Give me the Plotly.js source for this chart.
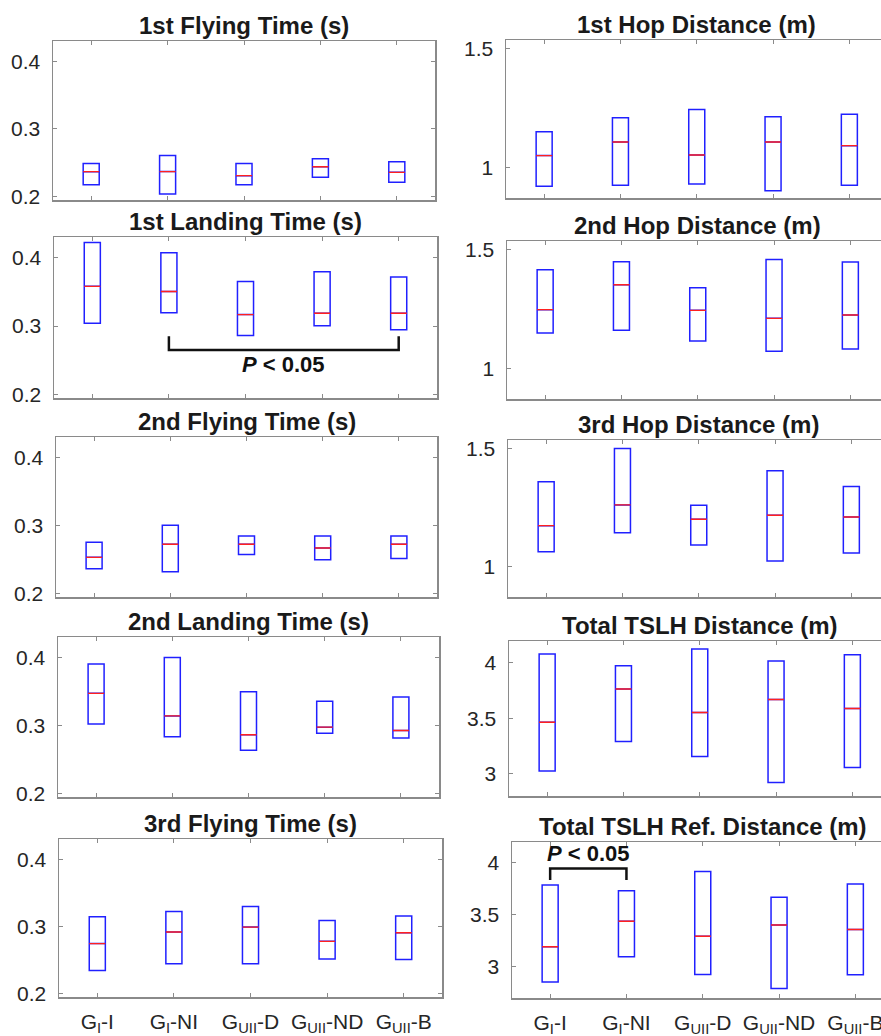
<!DOCTYPE html>
<html>
<head>
<meta charset="utf-8">
<script src="https://cdn.plot.ly/plotly-3.0.1.min.js"></script>
<style>html,body{margin:0;padding:0;background:#fff;}#chart{width:881px;height:1036px;}</style>
</head>
<body>
<div id="chart"></div>
<script>
// ---- data ----
const groupPositions = [1, 2, 3, 4, 5];
const groupLabels = ['G<sub>I</sub>-I', 'G<sub>I</sub>-NI', 'G<sub>UII</sub>-D', 'G<sub>UII</sub>-ND', 'G<sub>UII</sub>-B'];

const panelTitles = [
  '1st Flying Time (s)', '1st Landing Time (s)', '2nd Flying Time (s)', '2nd Landing Time (s)', '3rd Flying Time (s)',
  '1st Hop Distance (m)', '2nd Hop Distance (m)', '3rd Hop Distance (m)', 'Total TSLH Distance (m)', 'Total TSLH Ref. Distance (m)'
];

// 1st Flying Time
const fly1Q1  = [0.2175, 0.2039, 0.2175, 0.2286, 0.2214];
const fly1Med = [0.2369, 0.2370, 0.2310, 0.2442, 0.2359];
const fly1Q3  = [0.2490, 0.2607, 0.2490, 0.2558, 0.2515];
// 1st Landing Time
const land1Q1  = [0.3040, 0.3196, 0.2863, 0.3005, 0.2946];
const land1Med = [0.3580, 0.3505, 0.3167, 0.3186, 0.3186];
const land1Q3  = [0.4220, 0.4070, 0.3650, 0.3794, 0.3716];
// 2nd Flying Time
const fly2Q1  = [0.2365, 0.2320, 0.2576, 0.2498, 0.2517];
const fly2Med = [0.2532, 0.2724, 0.2724, 0.2670, 0.2724];
const fly2Q3  = [0.2754, 0.3005, 0.2847, 0.2847, 0.2847];
// 2nd Landing Time
const land2Q1  = [0.3024, 0.2835, 0.2635, 0.2888, 0.2815];
const land2Med = [0.3472, 0.3141, 0.2864, 0.2976, 0.2927];
const land2Q3  = [0.3905, 0.4000, 0.3496, 0.3355, 0.3418];
// 3rd Flying Time
const fly3Q1  = [0.2345, 0.2443, 0.2443, 0.2517, 0.2507];
const fly3Med = [0.2744, 0.2916, 0.2990, 0.2778, 0.2906];
const fly3Q3  = [0.3143, 0.3222, 0.3296, 0.3089, 0.3153];
// 1st Hop Distance
const hop1Q1  = [0.9216, 0.9258, 0.9314, 0.9020, 0.9258];
const hop1Med = [1.0504, 1.1078, 1.0532, 1.1078, 1.0924];
const hop1Q3  = [1.1510, 1.2100, 1.2450, 1.2143, 1.2240];
// 2nd Hop Distance
const hop2Q1  = [1.1500, 1.1610, 1.1162, 1.0728, 1.0826];
const hop2Med = [1.2480, 1.3529, 1.2451, 1.2115, 1.2255];
const hop2Q3  = [1.4160, 1.4496, 1.3403, 1.4594, 1.4482];
// 3rd Hop Distance
const hop3Q1  = [1.0637, 1.1445, 1.0921, 1.0241, 1.0581];
const hop3Med = [1.1742, 1.2620, 1.2011, 1.2181, 1.2110];
const hop3Q3  = [1.3598, 1.5014, 1.2606, 1.4065, 1.3400];
// Total TSLH Distance
const totQ1  = [3.024, 3.290, 3.156, 2.922, 3.057];
const totMed = [3.464, 3.763, 3.551, 3.668, 3.587];
const totQ3  = [4.078, 3.973, 4.123, 4.015, 4.072];
// Total TSLH Ref. Distance
const refQ1  = [2.850, 3.093, 2.923, 2.789, 2.920];
const refMed = [3.190, 3.435, 3.291, 3.399, 3.355];
const refQ3  = [3.783, 3.728, 3.914, 3.665, 3.792];

const yRanges = [
  [0.195, 0.430], [0.195, 0.430], [0.195, 0.430], [0.195, 0.430], [0.195, 0.430],
  [0.872, 1.537], [0.872, 1.537], [0.872, 1.537], [2.800, 4.195], [2.697, 4.197]
];
const yTicks = [
  [0.2, 0.3, 0.4], [0.2, 0.3, 0.4], [0.2, 0.3, 0.4], [0.2, 0.3, 0.4], [0.2, 0.3, 0.4],
  [1, 1.5], [1, 1.5], [1, 1.5], [3, 3.5, 4], [3, 3.5, 4]
];

// significance brackets: panel index, from group, to group, bracket foot, bracket bar, label y
const sigPanels = [1, 9];
const sigFrom   = [2, 1];
const sigTo     = [5, 2];
const sigFoot   = [0.285, 3.831];
const sigBar    = [0.265, 3.943];
const sigLabelY = [0.244, 4.086];
const sigText   = '<b><i>P</i> &lt; 0.05</b>';

const panelData = [
  [fly1Q1, fly1Med, fly1Q3], [land1Q1, land1Med, land1Q3], [fly2Q1, fly2Med, fly2Q3],
  [land2Q1, land2Med, land2Q3], [fly3Q1, fly3Med, fly3Q3],
  [hop1Q1, hop1Med, hop1Q3], [hop2Q1, hop2Med, hop2Q3], [hop3Q1, hop3Med, hop3Q3],
  [totQ1, totMed, totQ3], [refQ1, refMed, refQ3]
];

// ---- layout geometry (pixels) ----
const W = 881, H = 1036, STEP = 76.3;
// [left, right, top, bottom]
const leftBoxes = [[53, 435, 41, 200], [54, 437, 237, 398], [56, 437, 437, 597], [58, 439, 637, 797], [59, 442, 839, 997]];
// [left, top, bottom] (right side is cut by the page edge)
const rightBoxes = [[506, 40, 198], [507, 241, 399], [508, 440, 597], [509, 641, 796], [512, 842, 998]];

const FONT = 'Liberation Sans, Arial, sans-serif';
const TXT = '#262626';
const AXC = '#8a8a8a';

const traces = [];
const layout = {
  width: W, height: H,
  margin: {l: 0, r: 0, t: 0, b: 0},
  paper_bgcolor: '#fff', plot_bgcolor: '#fff',
  showlegend: false,
  boxmode: 'overlay',
  font: {family: FONT, color: TXT, size: 21},
  annotations: [], shapes: []
};

for (let i = 0; i < 10; i++) {
  const n = i + 1;
  const xa = 'x' + (n === 1 ? '' : n), ya = 'y' + (n === 1 ? '' : n);
  const xk = 'xaxis' + (n === 1 ? '' : n), yk = 'yaxis' + (n === 1 ? '' : n);
  let xDom, yDom, xRange, titleX, isRight = i >= 5;
  const row = i % 5;
  let top, bottom;
  if (!isRight) {
    const b = leftBoxes[row];
    xDom = [b[0] / W, b[1] / W];
    xRange = [0.5, 5.5];
    top = b[2]; bottom = b[3];
    titleX = (b[0] + b[1]) / 2 / W;
  } else {
    const b = rightBoxes[row];
    xDom = [b[0] / W, 1];
    xRange = [0.5, 0.5 + (W - b[0]) / STEP];
    top = b[1]; bottom = b[2];
    titleX = (b[0] + b[0] + 5 * STEP) / 2 / W;
  }
  yDom = [1 - bottom / H, 1 - top / H];
  const showX = row === 4;
  layout[xk] = {
    domain: xDom, range: xRange, anchor: ya,
    tickmode: 'array', tickvals: groupPositions, ticktext: groupLabels,
    showticklabels: showX, ticks: 'inside', ticklen: 4, tickcolor: AXC, tickwidth: 1,
    showline: true, linecolor: AXC, linewidth: 1.5, mirror: 'ticks',
    showgrid: false, zeroline: false, fixedrange: true, ticklabeloverflow: 'allow',
    tickfont: {family: FONT, size: 21, color: TXT}, ticklabelstandoff: 5
  };
  layout[yk] = {
    domain: yDom, range: yRanges[i], anchor: xa,
    tickmode: 'array', tickvals: yTicks[i], ticktext: yTicks[i].map(String),
    ticks: 'inside', ticklen: 4, tickcolor: AXC, tickwidth: 1,
    showline: true, linecolor: AXC, linewidth: 1.5, mirror: isRight ? false : 'ticks',
    showgrid: false, zeroline: false, fixedrange: true,
    tickfont: {family: FONT, size: 21, color: TXT}, ticklabelstandoff: 7
  };
  const [q1, med, q3] = panelData[i];
  traces.push({
    type: 'box', x: groupPositions, q1: q1, median: med, q3: q3,
    lowerfence: q1, upperfence: q3, width: 0.21,
    xaxis: xa, yaxis: ya, boxpoints: false, hoverinfo: 'skip',
    fillcolor: 'rgba(0,0,0,0)', line: {color: '#2020ff', width: 1.5}
  });
  traces.push({
    type: 'box', x: groupPositions, q1: med, median: med, q3: med,
    lowerfence: med, upperfence: med, width: 0.21,
    xaxis: xa, yaxis: ya, boxpoints: false, hoverinfo: 'skip',
    fillcolor: 'rgba(0,0,0,0)', line: {color: '#ff2020', width: 1.4}
  });
  layout.annotations.push({
    text: '<b>' + panelTitles[i] + '</b>', xref: 'paper', yref: 'paper',
    x: titleX, y: 1 - top / H, xanchor: 'center', yanchor: 'bottom', yshift: 0,
    showarrow: false, font: {family: FONT, size: 24, color: '#1a1a1a'}
  });
}

sigPanels.forEach((p, k) => {
  const n = p + 1;
  const xa = 'x' + n, ya = 'y' + n;
  const a = sigFrom[k], b = sigTo[k];
  layout.shapes.push({
    type: 'path', xref: xa, yref: ya,
    path: 'M ' + a + ',' + sigFoot[k] + ' L ' + a + ',' + sigBar[k] + ' L ' + b + ',' + sigBar[k] + ' L ' + b + ',' + sigFoot[k],
    line: {color: '#111', width: 2.5}
  });
  layout.annotations.push({
    text: sigText, xref: xa, yref: ya, x: (a + b) / 2, y: sigLabelY[k],
    xanchor: 'center', yanchor: 'middle', showarrow: false,
    font: {family: FONT, size: 22, color: '#111'}
  });
});

Plotly.newPlot('chart', traces, layout, {staticPlot: true, displayModeBar: false});
</script>
</body>
</html>
